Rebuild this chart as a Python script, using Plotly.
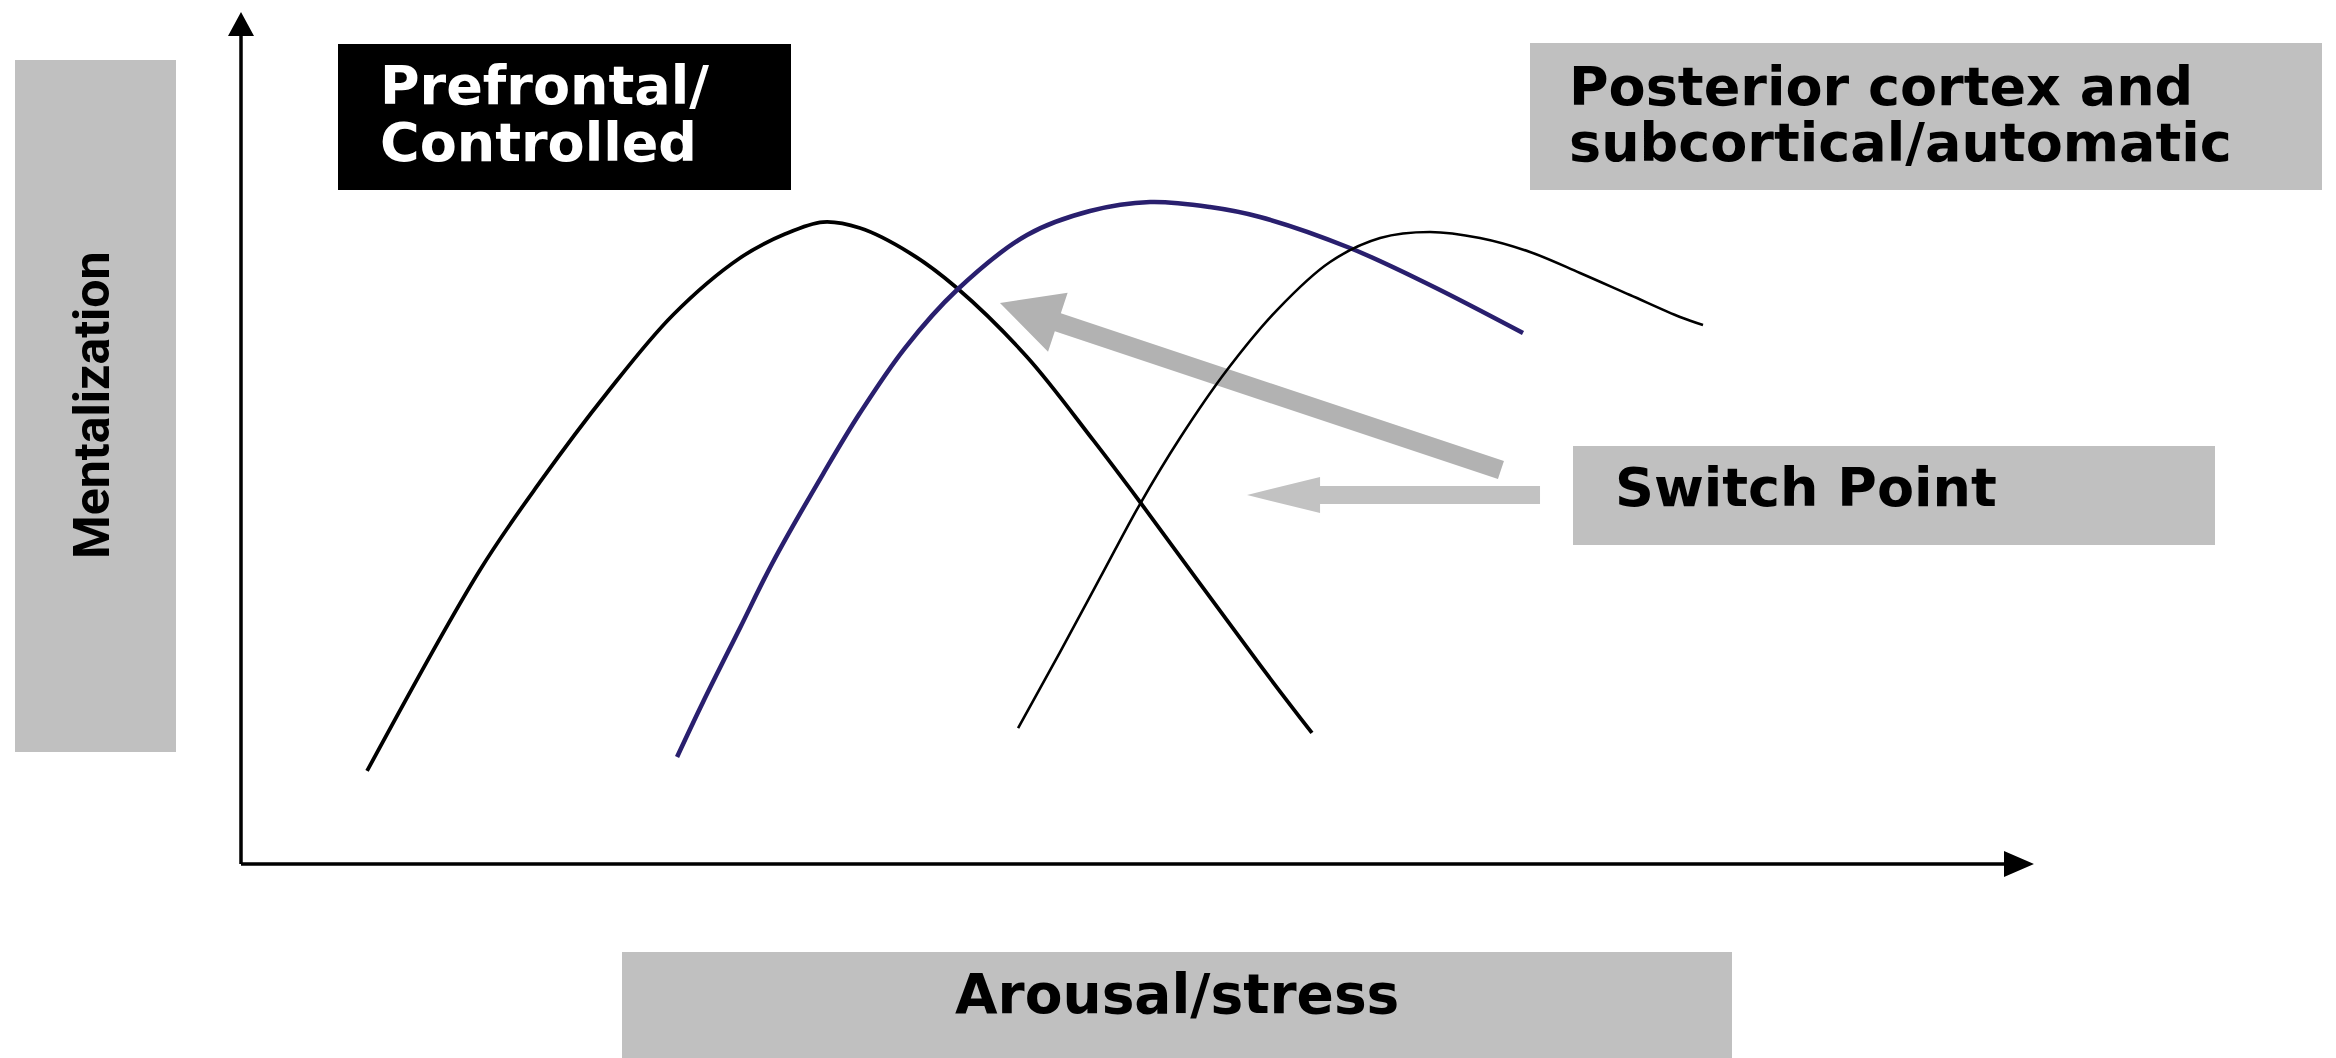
import math
import plotly.graph_objects as go

# ---------------- data (axis units 0-100) ----------------
curve_a_x = [7.03, 13.33, 16.68, 20.41, 24.09, 27.83, 30.34, 32.46, 34.52, 37.31,
             39.93, 43.84, 47.52, 50.14, 56.83, 59.73]
curve_a_y = [10.92, 34.51, 44.84, 55.28, 64.44, 71.13, 73.94, 75.35, 74.65, 71.71,
             67.61, 59.51, 49.77, 42.49, 23.36, 15.38]

curve_b_x = [24.32, 25.77, 27.83, 29.67, 32.46, 34.52, 37.03, 39.93, 43.84, 47.35, 50.70,
             54.04, 56.83, 61.85, 66.31, 71.50]
curve_b_y = [12.56, 19.01, 27.70, 35.45, 45.77, 52.93, 60.56, 67.37, 73.83, 76.64, 77.70,
             77.11, 75.94, 72.30, 67.96, 62.32]

curve_c_x = [43.34, 45.68, 47.91, 50.14, 52.37, 54.99, 57.78, 60.74, 63.53, 66.31, 69.10,
             71.89, 74.68, 77.47, 80.26, 81.54]
curve_c_y = [15.96, 24.88, 33.57, 42.25, 50.00, 57.98, 65.02, 70.66, 73.47, 74.18, 73.47,
             71.83, 69.37, 66.78, 64.20, 63.26]

big_arrow_tail = [70.27, 46.24]
big_arrow_tip = [42.33, 65.85]
small_arrow_tail = [72.45, 43.31]
small_arrow_tip = [56.11, 43.31]

axis_origin = [0, 0]
x_axis_tip = [100, 0]
y_axis_tip = [0, 100]

label_prefrontal = ["Prefrontal/", "Controlled"]
label_posterior = ["Posterior cortex and", "subcortical/automatic"]
label_switch = "Switch Point"
label_x = "Arousal/stress"
label_y = "Mentalization"

# ---------------- layout / geometry ----------------
W, H = 2336, 1058                # page size
OFF = 8                          # default page margin around the figure
FW, FH = W - OFF, H - OFF        # figure size
X0_PX, Y0_PX = 241, 864          # page pixel position of the axis origin
SX, SY = 17.93, 8.52             # pixels per axis unit

FONT = "DejaVu Sans, Liberation Sans, Arial, sans-serif"
NARROW = "Roboto, Liberation Sans, sans-serif"


def arrow_poly(tail, tip, shaft_w, head_len, head_w):
    tx, ty = tail[0] * SX, tail[1] * SY
    hx, hy = tip[0] * SX, tip[1] * SY
    dx, dy = hx - tx, hy - ty
    L = math.hypot(dx, dy)
    ux, uy = dx / L, dy / L
    nx, ny = -uy, ux
    bx, by = hx - ux * head_len, hy - uy * head_len
    s, h = shaft_w / 2, head_w / 2
    pts = [
        (tx + nx * s, ty + ny * s),
        (bx + nx * s, by + ny * s),
        (bx + nx * h, by + ny * h),
        (hx, hy),
        (bx - nx * h, by - ny * h),
        (bx - nx * s, by - ny * s),
        (tx - nx * s, ty - ny * s),
        (tx + nx * s, ty + ny * s),
    ]
    return [p[0] / SX for p in pts], [p[1] / SY for p in pts]


def px(x):
    return (x - OFF) / FW


def py(y):
    return 1 - (y - OFF) / FH


fig = go.Figure()

# axes with arrow heads
for tip, hl, hw in [(x_axis_tip, 30, 26), (y_axis_tip, 24, 26)]:
    ax_x, ax_y = arrow_poly(axis_origin, tip, 3.5, hl, hw)
    fig.add_trace(go.Scatter(x=ax_x, y=ax_y, mode="lines", fill="toself",
                             fillcolor="black", line=dict(width=0, color="black"),
                             hoverinfo="skip"))

# grey arrows
bx_, by_ = arrow_poly(big_arrow_tail, big_arrow_tip, 19, 61, 62)
fig.add_trace(go.Scatter(x=bx_, y=by_, mode="lines", fill="toself",
                         fillcolor="#b2b2b2", line=dict(width=0, color="#b2b2b2"),
                         hoverinfo="skip"))
sx_, sy_ = arrow_poly(small_arrow_tail, small_arrow_tip, 18, 73, 36)
fig.add_trace(go.Scatter(x=sx_, y=sy_, mode="lines", fill="toself",
                         fillcolor="#c2c2c2", line=dict(width=0, color="#c2c2c2"),
                         hoverinfo="skip"))

# curves
fig.add_trace(go.Scatter(x=curve_a_x, y=curve_a_y, mode="lines",
                         line=dict(color="black", width=3.8, shape="spline", smoothing=1.0),
                         hoverinfo="skip"))
fig.add_trace(go.Scatter(x=curve_b_x, y=curve_b_y, mode="lines",
                         line=dict(color="#291f6e", width=4.5, shape="spline", smoothing=1.0),
                         hoverinfo="skip"))
fig.add_trace(go.Scatter(x=curve_c_x, y=curve_c_y, mode="lines",
                         line=dict(color="black", width=2.6, shape="spline", smoothing=1.0),
                         hoverinfo="skip"))

# boxes
shapes = []
for (x0, y0, x1, y1, col) in [
    (15, 60, 176, 752, "#c0c0c0"),
    (338, 44, 791, 190, "#000000"),
    (1530, 43, 2322, 190, "#c0c0c0"),
    (1573, 446, 2215, 545, "#c0c0c0"),
    (622, 952, 1732, 1060, "#c0c0c0"),
]:
    shapes.append(dict(type="rect", xref="paper", yref="paper",
                       x0=px(x0), x1=px(x1), y0=py(y1), y1=py(y0),
                       fillcolor=col, line=dict(width=0), layer="below"))

annotations = []


def add_text(text, x, y, color="black", xanchor="left", angle=0, family=FONT, size=54):
    annotations.append(dict(text=text, x=px(x), y=py(y), xref="paper", yref="paper",
                            xanchor=xanchor, yanchor="middle", showarrow=False,
                            textangle=angle,
                            font=dict(family=family, size=size, color=color, weight="bold")))


add_text(label_prefrontal[0], 378, 85, color="white")
add_text(label_prefrontal[1], 378, 142, color="white")
add_text(label_posterior[0], 1567, 86)
add_text(label_posterior[1], 1567, 142)
add_text(label_switch, 1613, 488)
add_text(label_x, 1177, 994, xanchor="center", size=55)
add_text(label_y, 92, 405, xanchor="center", angle=-90, family=NARROW, size=50)

fig.update_layout(
    width=FW, height=FH,
    margin=dict(l=0, r=0, t=0, b=0),
    paper_bgcolor="white", plot_bgcolor="white",
    showlegend=False, hovermode=False,
    xaxis=dict(range=[(OFF - X0_PX) / SX, (W - X0_PX) / SX], visible=False, fixedrange=True),
    yaxis=dict(range=[(Y0_PX - H) / SY, (Y0_PX - OFF) / SY], visible=False, fixedrange=True),
    shapes=shapes, annotations=annotations,
)

fig.write_html("out.html")
